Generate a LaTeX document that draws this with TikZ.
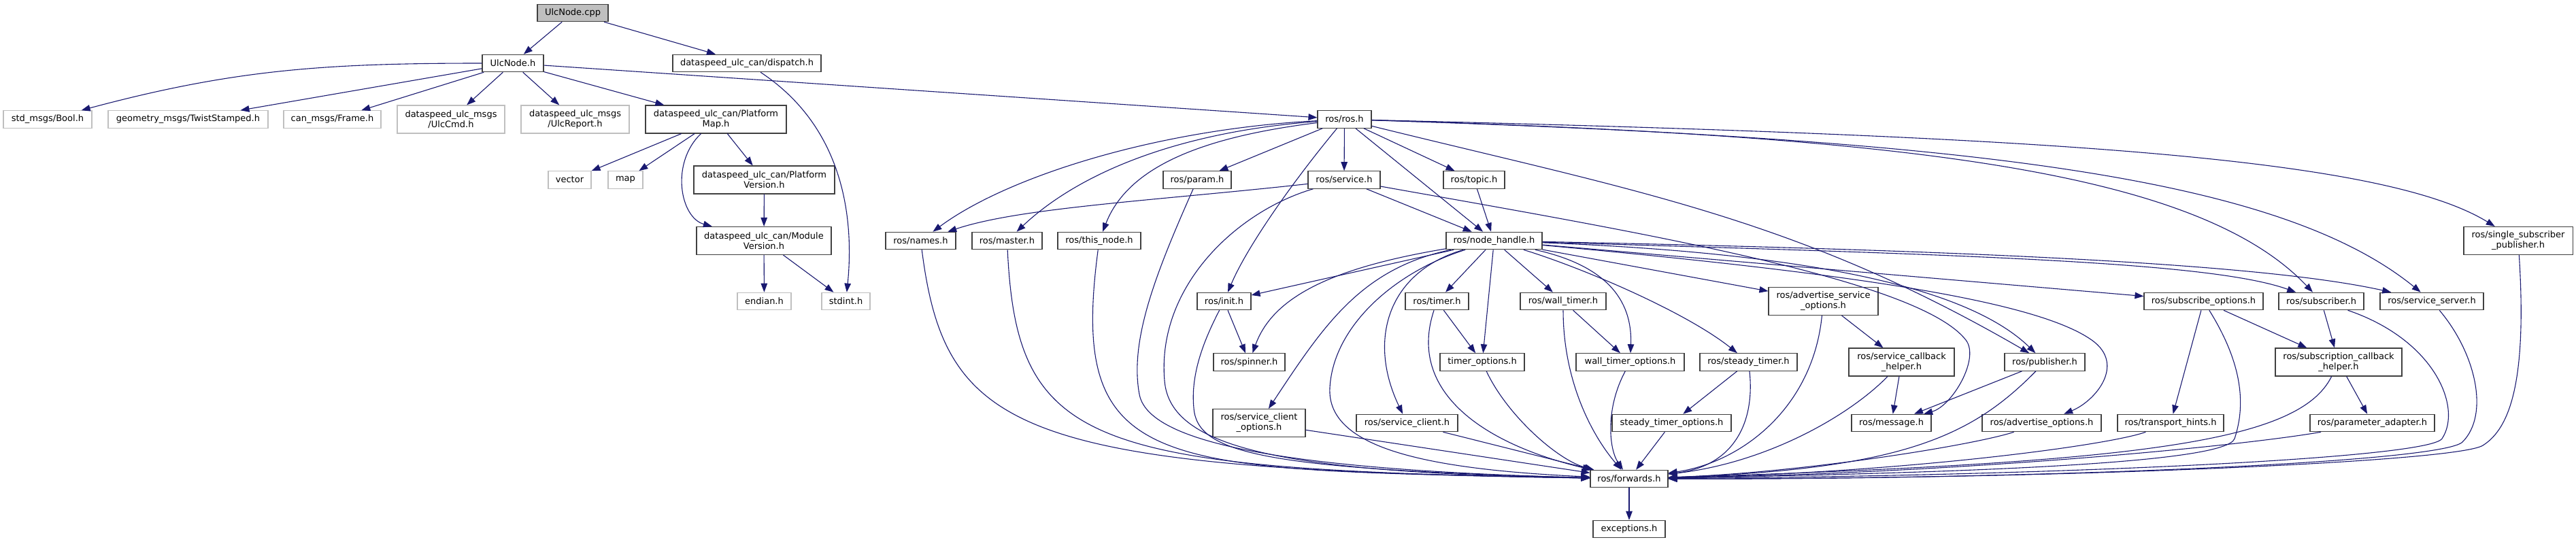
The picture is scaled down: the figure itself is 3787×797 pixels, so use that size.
\documentclass[tikz,border=0pt]{standalone}
\usepackage{fontspec}
\setmainfont{DejaVu Sans}
\usepackage{tikz}
\usetikzlibrary{arrows.meta}
\definecolor{edgeblue}{RGB}{25,25,112}
\definecolor{boxdark}{RGB}{64,64,64}
\definecolor{boxlight}{RGB}{191,191,191}
\tikzset{
	inc/.style={draw=boxdark, line width=1.1pt, fill=white, inner sep=0pt, align=center, minimum height=\htsm, font=\fontsize{13}{15}\selectfont},
	sysinc/.style={inc, draw=boxlight},
	rootinc/.style={inc, fill=boxlight},
	tall/.style={minimum height=\htlg},
	dep/.style={draw=edgeblue, line width=1.1pt, -{Triangle[length=13pt,width=9.5pt]}},
}

\begin{document}
\begin{tikzpicture}[x=1pt, y=-1pt]
			%%%%% START %%%%%
			\def\htsm{25.5pt}
			\def\htlg{41pt}
			\def\yzero{19}
			\def\yone{93}
			\def\ytwo{175.5}
			\def\ythree{264.5}
			\def\yfour{354}
			\def\yfive{443}
			\def\ysix{532.5}
			\def\yseven{622}
			\def\yeight{704}
			\def\ynine{778}
			
			\useasboundingbox (0,0) rectangle (3787,797);
			
			\node[rootinc, minimum width=104pt] (cpp) at (842,\yzero) {UlcNode.cpp};
			\node[inc, minimum width=90pt] (ulch) at (754,\yone) {UlcNode.h};
			\node[inc, minimum width=218pt] (dispatch) at (1098,\yone) {dataspeed\_ulc\_can/dispatch.h};
			
			\node[sysinc, minimum width=130pt] (boolh) at (70,\ytwo) {std\_msgs/Bool.h};
			\node[sysinc, minimum width=235pt] (twist) at (276.5,\ytwo) {geometry\_msgs/TwistStamped.h};
			\node[sysinc, minimum width=143pt] (frame) at (488.5,\ytwo) {can\_msgs/Frame.h};
			\node[sysinc, tall, minimum width=158pt] (ulccmd) at (663,\ytwo) {dataspeed\_ulc\_msgs\\/UlcCmd.h};
			\node[sysinc, tall, minimum width=159pt] (ulcreport) at (845.5,\ytwo) {dataspeed\_ulc\_msgs\\/UlcReport.h};
			\node[inc, tall, minimum width=207pt] (pmap) at (1052.5,\ytwo) {dataspeed\_ulc\_can/Platform\\Map.h};
			\node[inc, minimum width=79pt] (rosh) at (1976.5,\ytwo) {ros/ros.h};
			
			\node[sysinc, minimum width=63pt] (vector) at (837.5,\ythree) {vector};
			\node[sysinc, minimum width=51pt] (map) at (919.5,\ythree) {map};
			\node[inc, tall, minimum width=207pt] (pver) at (1123.5,\ythree) {dataspeed\_ulc\_can/Platform\\Version.h};
			\node[inc, minimum width=100pt] (param) at (1760,\ythree) {ros/param.h};
			\node[inc, minimum width=106pt] (service) at (1976,\ythree) {ros/service.h};
			\node[inc, minimum width=90pt] (topic) at (2167,\ythree) {ros/topic.h};
			
			\node[inc, tall, minimum width=198pt] (mver) at (1123,\yfour) {dataspeed\_ulc\_can/Module\\Version.h};
			\node[inc, minimum width=103pt] (names) at (1353.5,\yfour) {ros/names.h};
			\node[inc, minimum width=103pt] (master) at (1480.5,\yfour) {ros/master.h};
			\node[inc, minimum width=122pt] (thisnode) at (1616,\yfour) {ros/this\_node.h};
			\node[inc, minimum width=141pt] (nodeh) at (2196.5,\yfour) {ros/node\_handle.h};
			\node[inc, tall, minimum width=160pt] (ssp) at (3702,\yfour) {ros/single\_subscriber\\\_publisher.h};
			
			\node[sysinc, minimum width=79pt] (endian) at (1123.5,\yfive) {endian.h};
			\node[sysinc, minimum width=71pt] (stdint) at (1243.5,\yfive) {stdint.h};
			\node[inc, minimum width=79pt] (init) at (1799.5,\yfive) {ros/init.h};
			\node[inc, minimum width=93pt] (timer) at (2112.5,\yfive) {ros/timer.h};
			\node[inc, minimum width=126pt] (walltimer) at (2298,\yfive) {ros/wall\_timer.h};
			\node[inc, tall, minimum width=161pt] (aso) at (2680.5,\yfive) {ros/advertise\_service\\\_options.h};
			\node[inc, minimum width=175pt] (subopt) at (3239.5,\yfive) {ros/subscribe\_options.h};
			\node[inc, minimum width=125pt] (subscriber) at (3412.5,\yfive) {ros/subscriber.h};
			\node[inc, minimum width=152pt] (srvserver) at (3575,\yfive) {ros/service\_server.h};
			
			\node[inc, minimum width=105pt] (spinner) at (1836.5,\ysix) {ros/spinner.h};
			\node[inc, minimum width=124pt] (timeropt) at (2179,\ysix) {timer\_options.h};
			\node[inc, minimum width=159pt] (walltimeropt) at (2396.5,\ysix) {wall\_timer\_options.h};
			\node[inc, minimum width=143pt] (steadytimer) at (2570.5,\ysix) {ros/steady\_timer.h};
			\node[inc, tall, minimum width=155pt] (scbh) at (2795.5,\ysix) {ros/service\_callback\\\_helper.h};
			\node[inc, minimum width=118pt] (publisher) at (3006,\ysix) {ros/publisher.h};
			\node[inc, tall, minimum width=186pt] (subcbh) at (3438,\ysix) {ros/subscription\_callback\\\_helper.h};
			
			\node[inc, tall, minimum width=136pt] (sco) at (1851,\yseven) {ros/service\_client\\\_options.h};
			\node[inc, minimum width=149pt] (srvclient) at (2068.5,\yseven) {ros/service\_client.h};
			\node[inc, minimum width=175pt] (steadyopt) at (2457.5,\yseven) {steady\_timer\_options.h};
			\node[inc, minimum width=117pt] (message) at (2780.5,\yseven) {ros/message.h};
			\node[inc, minimum width=175pt] (advopt) at (3001.5,\yseven) {ros/advertise\_options.h};
			\node[inc, minimum width=156pt] (hints) at (3191,\yseven) {ros/transport\_hints.h};
			\node[inc, minimum width=183pt] (padapter) at (3487.5,\yseven) {ros/parameter\_adapter.h};
			
			\node[inc, minimum width=114pt] (fwd) at (2395,\yeight) {ros/forwards.h};
			\node[inc, minimum width=106pt] (exc) at (2395,\ynine) {exceptions.h};
			
			% ulc part
			\draw[dep] (cpp) -- (ulch);
			\draw[dep] (cpp) -- (dispatch);
			\draw[dep] (ulch) to[out=180,in=15] (boolh);
			\draw[dep] (ulch) -- (twist);
			\draw[dep] (ulch) -- (frame);
			\draw[dep] (ulch) -- (ulccmd);
			\draw[dep] (ulch) -- (ulcreport);
			\draw[dep] (ulch) -- (pmap);
			\draw[dep] (ulch) -- (rosh);
			\draw[dep] (dispatch) .. controls (1245,190) and (1255,330) .. (stdint);
			\draw[dep] (pmap) -- (vector);
			\draw[dep] (pmap) -- (map);
			\draw[dep] (pmap) -- (pver);
			\draw[dep] (pmap) .. controls (985,240) and (1000,320) .. (mver);
			\draw[dep] (pver) -- (mver);
			\draw[dep] (mver) -- (endian);
			\draw[dep] (mver) -- (stdint);
			
			% ros part
			\draw[dep] (rosh) .. controls (1700,190) and (1480,260) .. (names);
			\draw[dep] (rosh) .. controls (1720,195) and (1580,260) .. (master);
			\draw[dep] (rosh) .. controls (1780,200) and (1660,240) .. (thisnode);
			\draw[dep] (rosh) -- (param);
			\draw[dep] (rosh) -- (service);
			\draw[dep] (rosh) -- (topic);
			\draw[dep] (rosh) -- (nodeh);
			\draw[dep] (rosh) .. controls (1890,280) and (1830,370) .. (init);
			\draw[dep] (rosh) .. controls (2400,280) and (2640,320) .. (publisher);
			\draw[dep] (rosh) .. controls (2800,200) and (3230,250) .. (subscriber);
			\draw[dep] (rosh) .. controls (2900,205) and (3350,260) .. (srvserver);
			\draw[dep] (rosh) .. controls (3000,200) and (3500,230) .. (ssp);
			
			\draw[dep] (service) .. controls (1700,295) and (1500,305) .. (names);
			\draw[dep] (service) -- (nodeh);
			\draw[dep] (service) .. controls (2400,340) and (2820,410) .. (2890,500) .. controls (2911,527) and (2870,597) .. (message);
			\draw[dep] (service) .. controls (1820,310) and (1700,420) .. (1712,560) .. controls (1720,658) and (1880,695) .. (fwd);
			\draw[dep] (topic) -- (nodeh);
			
			\draw[dep] (names) .. controls (1390,640) and (1500,690) .. (fwd);
			\draw[dep] (master) .. controls (1495,660) and (1600,690) .. (fwd);
			\draw[dep] (thisnode) .. controls (1570,700) and (1700,690) .. (fwd);
			\draw[dep] (param) .. controls (1700,400) and (1660,500) .. (1675,580) .. controls (1687,644) and (1850,690) .. (fwd);
			\draw[dep] (init) -- (spinner);
			\draw[dep] (init) .. controls (1770,500) and (1750,550) .. (1755,600) .. controls (1760,665) and (1850,690) .. (fwd);
			
			% node_handle
			\draw[dep] (nodeh) -- (init);
			\draw[dep] (nodeh) .. controls (1950,395) and (1870,440) .. (spinner);
			\draw[dep] (nodeh) .. controls (2000,395) and (1945,480) .. (sco);
			\draw[dep] (nodeh) .. controls (2050,400) and (1960,480) .. (1955,570) .. controls (1950,660) and (2100,690) .. (fwd);
			\draw[dep] (nodeh) .. controls (2040,400) and (2010,500) .. (srvclient);
			\draw[dep] (nodeh) -- (timer);
			\draw[dep] (nodeh) -- (timeropt);
			\draw[dep] (nodeh) -- (walltimer);
			\draw[dep] (nodeh) .. controls (2360,390) and (2400,440) .. (walltimeropt);
			\draw[dep] (nodeh) .. controls (2330,395) and (2480,460) .. (steadytimer);
			\draw[dep] (nodeh) -- (aso);
			\draw[dep] (nodeh) .. controls (2600,370) and (2880,410) .. (publisher);
			\draw[dep] (nodeh) .. controls (2700,400) and (2990,440) .. (3075,500) .. controls (3126,536) and (3080,590) .. (advopt);
			\draw[dep] (nodeh) -- (subopt);
			\draw[dep] (nodeh) .. controls (2900,375) and (3250,385) .. (subscriber);
			\draw[dep] (nodeh) .. controls (3000,370) and (3350,393) .. (srvserver);
			
			\draw[dep] (sco) -- (fwd);
			\draw[dep] (srvclient) -- (fwd);
			\draw[dep] (timer) -- (timeropt);
			\draw[dep] (timer) .. controls (2070,570) and (2170,650) .. (fwd);
			\draw[dep] (timeropt) .. controls (2215,610) and (2290,677) .. (fwd);
			\draw[dep] (walltimer) -- (walltimeropt);
			\draw[dep] (walltimer) .. controls (2298,560) and (2340,640) .. (fwd);
			\draw[dep] (walltimeropt) .. controls (2360,600) and (2365,660) .. (fwd);
			\draw[dep] (steadytimer) -- (steadyopt);
			\draw[dep] (steadytimer) .. controls (2580,620) and (2550,685) .. (fwd);
			\draw[dep] (steadyopt) -- (fwd);
			
			\draw[dep] (aso) -- (scbh);
			\draw[dep] (aso) .. controls (2665,600) and (2560,680) .. (fwd);
			\draw[dep] (scbh) -- (message);
			\draw[dep] (scbh) .. controls (2720,610) and (2600,680) .. (fwd);
			\draw[dep] (publisher) -- (message);
			\draw[dep] (publisher) .. controls (2900,640) and (2800,690) .. (fwd);
			\draw[dep] (advopt) .. controls (2900,655) and (2650,695) .. (fwd);
			\draw[dep] (hints) .. controls (3100,655) and (2800,695) .. (fwd);
			
			% subscriber side
			\draw[dep] (subopt) -- (hints);
			\draw[dep] (subopt) -- (subcbh);
			\draw[dep] (subopt) .. controls (3300,540) and (3300,600) .. (3285,645) .. controls (3273,681) and (2900,695) .. (fwd);
			\draw[dep] (subscriber) -- (subcbh);
			\draw[dep] (subscriber) .. controls (3580,500) and (3620,600) .. (3590,645) .. controls (3570,675) and (3000,700) .. (fwd);
			\draw[dep] (subcbh) -- (padapter);
			\draw[dep] (subcbh) .. controls (3380,650) and (3150,680) .. (fwd);
			\draw[dep] (padapter) .. controls (3300,655) and (2900,695) .. (fwd);
			\draw[dep] (srvserver) .. controls (3640,520) and (3660,610) .. (3620,650) .. controls (3590,680) and (3000,705) .. (fwd);
			\draw[dep] (ssp) .. controls (3715,560) and (3690,630) .. (3650,655) .. controls (3610,680) and (3000,705) .. (fwd);
			
			\draw[dep] (fwd) -- (exc);
			%%%%% END %%%%%
\end{tikzpicture}
\end{document}
